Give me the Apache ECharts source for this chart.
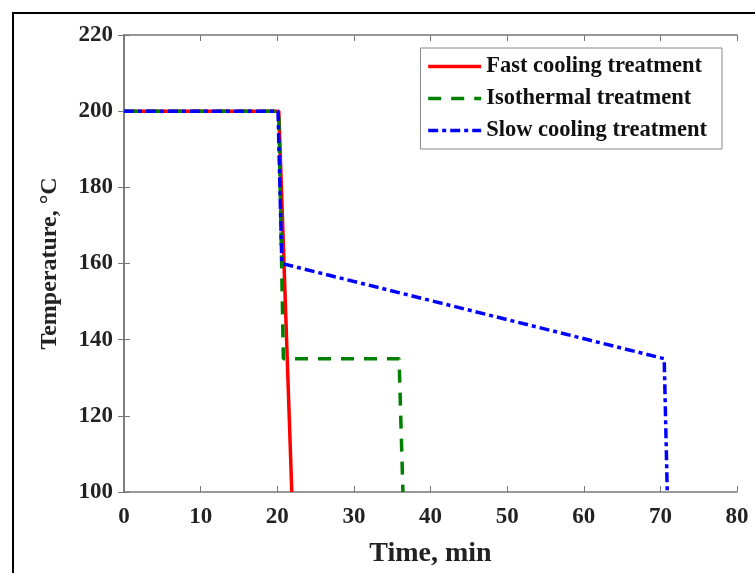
<!DOCTYPE html>
<html>
<head>
<meta charset="utf-8">
<script src="https://cdn.jsdelivr.net/npm/echarts@6/dist/echarts.min.js"></script>
<style>
  html, body { margin: 0; padding: 0; background: #fff; }
  #chartBox { width: 755px; height: 573px; }
</style>
</head>
<body>
<div id="chartBox"></div>
<script>
// data: [time min, temperature °C]
const fastCooling = [[0, 200], [20.2, 200], [21.9, 100]]
const isothermal = [[0, 200], [20.2, 200], [20.8, 135], [35.9, 135], [36.4, 100]]
const slowCooling = [[0, 200], [20.1, 200], [20.6, 160], [70.5, 135], [70.9, 100]]
const seriesNames = ['Fast cooling treatment', 'Isothermal treatment', 'Slow cooling treatment']

const fontFamily = '"Liberation Serif", "DejaVu Serif", serif'
const axisColor = '#777'

const myChart = echarts.init(document.getElementById('chartBox'))

const hiddenAxis = {
  axisLine: { show: true, lineStyle: { color: axisColor, width: 1.5 } },
  axisTick: { show: true, inside: true, length: 6, lineStyle: { color: axisColor } },
  axisLabel: { show: false },
  splitLine: { show: false }
}

const chartOptions = {
  animation: false,
  backgroundColor: '#fff',
  textStyle: { fontFamily: fontFamily },
  graphic: [{
    type: 'rect',
    shape: { x: 13, y: 13, width: 760, height: 580 },
    style: { fill: 'none', stroke: '#000', lineWidth: 2 }
  }],
  grid: { left: 124, right: 18, top: 35, bottom: 81 },
  legend: {
    data: seriesNames,
    orient: 'vertical',
    right: 33,
    top: 48,
    backgroundColor: '#fff',
    borderColor: '#888',
    borderWidth: 1,
    padding: [7, 15, 7, 6],
    itemGap: 9,
    itemWidth: 53,
    itemHeight: 22,
    itemStyle: { opacity: 0 },
    lineStyle: { width: 3.5 },
    textStyle: { fontFamily: fontFamily, fontWeight: 'bold', fontSize: 22.5, lineHeight: 22, color: '#111', padding: [0, 0, 0, 0] }
  },
  xAxis: [{
    type: 'value',
    min: 0, max: 80, interval: 10,
    name: 'Time, min',
    nameLocation: 'middle',
    nameGap: 48,
    nameTextStyle: { fontFamily: fontFamily, fontWeight: 'bold', fontSize: 28, color: '#222' },
    axisLine: { show: true, onZero: false, lineStyle: { color: axisColor, width: 1.5 } },
    axisTick: { show: true, inside: true, length: 6, lineStyle: { color: axisColor } },
    axisLabel: { fontFamily: fontFamily, fontWeight: 'bold', fontSize: 23, color: '#222', margin: 14 },
    splitLine: { show: false }
  }, Object.assign({ type: 'value', position: 'top', min: 0, max: 80, interval: 10 }, hiddenAxis)],
  yAxis: [{
    type: 'value',
    min: 100, max: 220, interval: 20,
    name: 'Temperature, °C',
    nameLocation: 'middle',
    nameGap: 62,
    nameTextStyle: { fontFamily: fontFamily, fontWeight: 'bold', fontSize: 24, color: '#222' },
    axisLine: { show: true, onZero: false, lineStyle: { color: axisColor, width: 1.5 } },
    axisTick: { show: true, inside: true, length: 6, lineStyle: { color: axisColor } },
    axisLabel: { fontFamily: fontFamily, fontWeight: 'bold', fontSize: 23, color: '#222', margin: 11 },
    splitLine: { show: false }
  }, Object.assign({ type: 'value', position: 'right', min: 100, max: 220, interval: 20 }, hiddenAxis)],
  series: [
    {
      name: seriesNames[0],
      type: 'line',
      data: fastCooling,
      symbol: 'none',
      z: 3,
      lineStyle: { color: '#ff0000', width: 3.5, type: 'solid' },
      itemStyle: { color: '#ff0000' }
    },
    {
      name: seriesNames[1],
      type: 'line',
      data: isothermal,
      symbol: 'none',
      z: 4,
      lineStyle: { color: '#008000', width: 3.5, type: [13, 10] },
      itemStyle: { color: '#008000' }
    },
    {
      name: seriesNames[2],
      type: 'line',
      data: slowCooling,
      symbol: 'none',
      z: 5,
      lineStyle: { color: '#0000ff', width: 3.5, type: [10, 4, 4, 4] },
      itemStyle: { color: '#0000ff' }
    }
  ]
}

myChart.setOption(chartOptions)
</script>
</body>
</html>
